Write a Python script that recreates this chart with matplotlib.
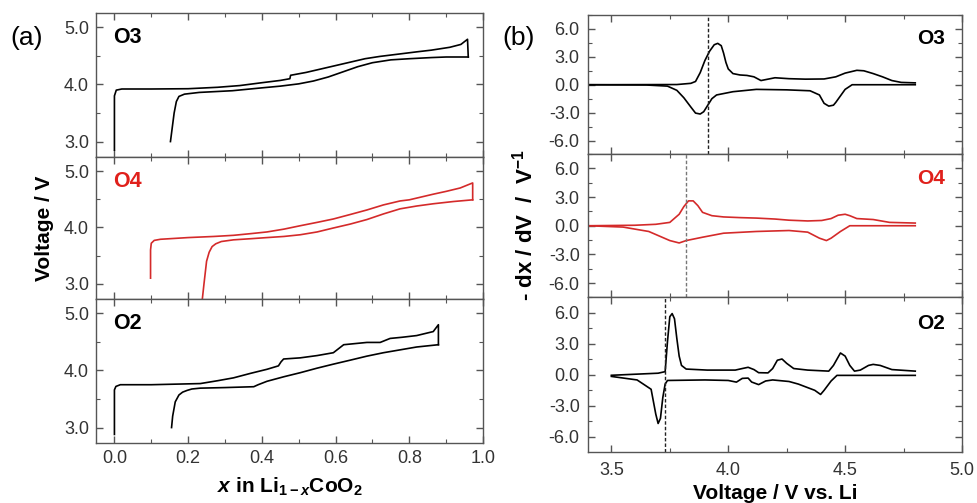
import matplotlib
matplotlib.use("Agg")
import matplotlib.pyplot as plt
from matplotlib.ticker import MultipleLocator, FormatStrFormatter

plt.rcParams['font.family'] = ['Liberation Sans', 'DejaVu Sans']
plt.rcParams['mathtext.fontset'] = 'custom'
plt.rcParams['mathtext.rm'] = 'Liberation Sans:bold'
plt.rcParams['mathtext.bf'] = 'Liberation Sans:bold'
plt.rcParams['mathtext.it'] = 'Liberation Sans:italic:bold'

# ---- (a) voltage profiles, x in Li(1-x)CoO2 ----
x_o3_ch = [0.0, 0.0, 0.005, 0.02, 0.10, 0.20, 0.28, 0.34, 0.40, 0.45, 0.476, 0.478, 0.52, 0.56, 0.60, 0.64, 0.68, 0.72, 0.77, 0.82, 0.86, 0.91, 0.94, 0.958, 0.96]
v_o3_ch = [2.85, 3.80, 3.90, 3.92, 3.92, 3.925, 3.95, 3.98, 4.03, 4.07, 4.10, 4.16, 4.21, 4.27, 4.33, 4.39, 4.45, 4.49, 4.53, 4.57, 4.60, 4.65, 4.70, 4.79, 4.48]
x_o3_dis = [0.96, 0.90, 0.86, 0.80, 0.75, 0.70, 0.66, 0.62, 0.58, 0.54, 0.50, 0.45, 0.40, 0.32, 0.23, 0.19, 0.175, 0.168, 0.162, 0.157, 0.152]
v_o3_dis = [4.48, 4.48, 4.47, 4.45, 4.43, 4.38, 4.31, 4.22, 4.13, 4.06, 4.01, 3.97, 3.94, 3.89, 3.86, 3.83, 3.79, 3.70, 3.50, 3.25, 3.00]

x_o4_ch = [0.098, 0.098, 0.100, 0.108, 0.125, 0.20, 0.27, 0.323, 0.37, 0.414, 0.46, 0.504, 0.55, 0.594, 0.64, 0.685, 0.73, 0.775, 0.80, 0.865, 0.90, 0.938, 0.972, 0.972]
v_o4_ch = [3.10, 3.60, 3.72, 3.77, 3.79, 3.82, 3.84, 3.86, 3.89, 3.92, 3.97, 4.03, 4.09, 4.15, 4.23, 4.31, 4.40, 4.47, 4.49, 4.59, 4.64, 4.70, 4.79, 4.49]
x_o4_dis = [0.972, 0.92, 0.865, 0.82, 0.775, 0.73, 0.685, 0.64, 0.594, 0.55, 0.504, 0.46, 0.414, 0.37, 0.323, 0.29, 0.275, 0.265, 0.257, 0.25, 0.243, 0.238]
v_o4_dis = [4.49, 4.46, 4.42, 4.38, 4.33, 4.24, 4.14, 4.06, 3.99, 3.92, 3.87, 3.84, 3.82, 3.80, 3.78, 3.75, 3.71, 3.66, 3.56, 3.40, 3.00, 2.70]

x_o2_ch = [0.0, 0.0, 0.004, 0.016, 0.10, 0.233, 0.28, 0.323, 0.37, 0.414, 0.445, 0.452, 0.459, 0.504, 0.55, 0.594, 0.622, 0.685, 0.721, 0.748, 0.78, 0.820, 0.865, 0.879, 0.879]
v_o2_ch = [2.88, 3.66, 3.72, 3.75, 3.75, 3.77, 3.82, 3.87, 3.95, 4.02, 4.08, 4.15, 4.20, 4.22, 4.26, 4.31, 4.45, 4.49, 4.49, 4.56, 4.58, 4.61, 4.68, 4.80, 4.45]
x_o2_dis = [0.879, 0.82, 0.775, 0.73, 0.685, 0.64, 0.594, 0.55, 0.504, 0.46, 0.414, 0.39, 0.378, 0.30, 0.233, 0.21, 0.197, 0.185, 0.175, 0.165, 0.158, 0.155]
v_o2_dis = [4.45, 4.41, 4.36, 4.31, 4.25, 4.18, 4.11, 4.04, 3.96, 3.89, 3.81, 3.75, 3.715, 3.70, 3.69, 3.675, 3.65, 3.62, 3.57, 3.45, 3.20, 3.00]

# ---- (b) differential capacity, -dx/dV vs voltage ----
V_o3c = [3.40, 3.78, 3.84, 3.86, 3.88, 3.90, 3.92, 3.94, 3.955, 3.97, 3.98, 3.99, 4.00, 4.02, 4.05, 4.08, 4.11, 4.14, 4.17, 4.20, 4.26, 4.33, 4.41, 4.46, 4.50, 4.55, 4.58, 4.62, 4.66, 4.70, 4.74, 4.80]
dq_o3c = [0.0, 0.02, 0.15, 0.35, 1.3, 2.6, 3.6, 4.3, 4.45, 4.2, 3.4, 2.4, 1.7, 1.2, 1.05, 1.0, 0.85, 0.45, 0.6, 0.75, 0.65, 0.6, 0.62, 0.85, 1.25, 1.55, 1.5, 1.2, 0.85, 0.45, 0.25, 0.2]
V_o3d = [4.80, 4.53, 4.50, 4.48, 4.46, 4.45, 4.43, 4.41, 4.39, 4.35, 4.25, 4.12, 4.02, 3.98, 3.95, 3.93, 3.91, 3.895, 3.88, 3.86, 3.84, 3.81, 3.78, 3.74, 3.65, 3.40]
dq_o3d = [0.0, 0.0, -0.5, -1.2, -1.9, -2.2, -2.3, -2.0, -1.1, -0.65, -0.55, -0.5, -0.75, -0.95, -1.1, -1.5, -2.3, -2.9, -3.15, -3.05, -2.4, -1.4, -0.6, -0.15, -0.03, 0.0]

V_o4c = [3.40, 3.60, 3.69, 3.75, 3.79, 3.81, 3.83, 3.85, 3.87, 3.89, 3.93, 3.98, 4.05, 4.12, 4.20, 4.26, 4.34, 4.40, 4.44, 4.47, 4.50, 4.52, 4.55, 4.62, 4.69, 4.80]
dq_o4c = [0.0, 0.05, 0.15, 0.35, 1.2, 2.0, 2.6, 2.6, 2.1, 1.4, 1.05, 0.92, 0.85, 0.8, 0.7, 0.58, 0.5, 0.55, 0.75, 1.1, 1.2, 1.05, 0.75, 0.65, 0.35, 0.28]
V_o4d = [4.80, 4.52, 4.48, 4.44, 4.42, 4.39, 4.34, 4.26, 4.12, 3.98, 3.89, 3.82, 3.79, 3.75, 3.66, 3.55, 3.40]
dq_o4d = [0.0, 0.0, -0.6, -1.3, -1.55, -1.3, -0.67, -0.5, -0.6, -0.78, -1.2, -1.55, -1.8, -1.55, -0.6, -0.14, 0.0]

V_o2c = [3.50, 3.60, 3.70, 3.73, 3.74, 3.75, 3.76, 3.77, 3.78, 3.79, 3.80, 3.82, 3.91, 4.03, 4.06, 4.085, 4.11, 4.13, 4.17, 4.19, 4.21, 4.23, 4.25, 4.28, 4.34, 4.43, 4.45, 4.47, 4.48, 4.50, 4.52, 4.54, 4.565, 4.60, 4.62, 4.65, 4.70, 4.80]
dq_o2c = [-0.05, 0.05, 0.15, 0.30, 3.2, 5.6, 5.9, 5.4, 3.5, 1.8, 0.9, 0.55, 0.45, 0.45, 0.6, 0.72, 0.5, 0.2, 0.18, 0.6, 1.4, 1.52, 1.1, 0.6, 0.45, 0.35, 0.9, 1.7, 2.1, 1.8, 0.9, 0.35, 0.45, 0.9, 1.0, 0.9, 0.5, 0.35]
V_o2d = [4.80, 4.465, 4.44, 4.41, 4.395, 4.37, 4.30, 4.26, 4.19, 4.16, 4.13, 4.10, 4.085, 4.06, 4.035, 4.00, 3.90, 3.74, 3.73, 3.72, 3.71, 3.70, 3.69, 3.67, 3.61, 3.50]
dq_o2d = [-0.06, -0.06, -0.6, -1.5, -1.9, -1.5, -0.9, -0.65, -0.5, -0.6, -0.95, -0.7, -0.32, -0.35, -0.71, -0.55, -0.5, -0.55, -0.9, -2.2, -4.2, -4.7, -3.8, -1.4, -0.5, -0.16]

phase_names = ['O3', 'O4', 'O2']
phase_colors = ['black', '#d42a2a', 'black']
label_colors = ['black', '#e0201b', 'black']
dash_v = [3.914, 3.82, 3.73]
dash_colors = ['#222222', '#777777', '#222222']

left_curves = [(x_o3_ch, v_o3_ch, x_o3_dis, v_o3_dis),
               (x_o4_ch, v_o4_ch, x_o4_dis, v_o4_dis),
               (x_o2_ch, v_o2_ch, x_o2_dis, v_o2_dis)]
right_curves = [(V_o3c, dq_o3c, V_o3d, dq_o3d),
                (V_o4c, dq_o4c, V_o4d, dq_o4d),
                (V_o2c, dq_o2c, V_o2d, dq_o2d)]

fig = plt.figure(figsize=(9.77, 5.03), dpi=100)

spine_col = '#555555'
tick_col = '#333333'


def style_axis(ax):
    for s in ax.spines.values():
        s.set_color(spine_col)
        s.set_linewidth(1.0)
    ax.tick_params(which='both', direction='in', top=True, right=True,
                   colors=spine_col, labelcolor=tick_col, labelsize=13)
    ax.tick_params(which='major', length=5, width=1.0)
    ax.tick_params(which='minor', length=3, width=0.8)


# left column
left_x0, left_w = 96 / 977, 387 / 977
left_edges = [13, 157, 299, 443]
for i in range(3):
    top, bot = left_edges[i], left_edges[i + 1]
    ax = fig.add_axes([left_x0, 1 - bot / 503, left_w, (bot - top) / 503])
    xc, vc, xd, vd = left_curves[i]
    ax.plot(xc, vc, color=phase_colors[i], lw=1.2)
    ax.plot(xd, vd, color=phase_colors[i], lw=1.2)
    ax.set_xlim(-0.05, 1.0)
    ax.set_ylim(2.73, 5.25)
    ax.xaxis.set_major_locator(MultipleLocator(0.2))
    ax.xaxis.set_minor_locator(MultipleLocator(0.1))
    ax.yaxis.set_major_locator(MultipleLocator(1.0))
    ax.yaxis.set_minor_locator(MultipleLocator(0.5))
    ax.xaxis.set_major_formatter(FormatStrFormatter('%.1f'))
    ax.yaxis.set_major_formatter(FormatStrFormatter('%.1f'))
    style_axis(ax)
    ax.tick_params(axis='y', pad=5)
    ax.tick_params(axis='x', pad=5)
    if i < 2:
        ax.tick_params(labelbottom=False)
    ax.text(0.045, 0.83, phase_names[i], transform=ax.transAxes, fontsize=15.5,
            fontweight='bold', color=label_colors[i], va='center', ha='left')
    if i == 1:
        ax.set_ylabel('Voltage / V', fontsize=15, fontweight='bold', labelpad=7)
    if i == 2:
        ax.set_xlabel(r'$x$ in Li$_{1-x}$CoO$_2$', fontsize=15, fontweight='bold', labelpad=6)

# right column
right_x0, right_w = 588 / 977, 374 / 977
right_edges = [15, 154, 297, 452]
for i in range(3):
    top, bot = right_edges[i], right_edges[i + 1]
    ax = fig.add_axes([right_x0, 1 - bot / 503, right_w, (bot - top) / 503])
    vc, qc, vd, qd = right_curves[i]
    ax.plot(vc, qc, color=phase_colors[i], lw=1.2)
    ax.plot(vd, qd, color=phase_colors[i], lw=1.2)
    ax.axvline(dash_v[i], color=dash_colors[i], lw=1.0, ls=(0, (2.5, 1.5)))
    ax.set_xlim(3.4, 5.0)
    ax.set_ylim(-7.45, 7.5)
    ax.xaxis.set_major_locator(MultipleLocator(0.5))
    ax.xaxis.set_minor_locator(MultipleLocator(0.25))
    ax.yaxis.set_major_locator(MultipleLocator(3.0))
    ax.yaxis.set_minor_locator(MultipleLocator(1.5))
    ax.xaxis.set_major_formatter(FormatStrFormatter('%.1f'))
    ax.yaxis.set_major_formatter(FormatStrFormatter('%.1f'))
    style_axis(ax)
    ax.tick_params(axis='y', pad=6)
    ax.tick_params(axis='x', pad=7)
    if i < 2:
        ax.tick_params(labelbottom=False)
    ax.text(0.955, 0.83, phase_names[i], transform=ax.transAxes, fontsize=15,
            fontweight='bold', color=label_colors[i], va='center', ha='right')
    if i == 1:
        ax.set_ylabel(r'- dx / dV  /  V$^{-1}$', fontsize=16, fontweight='bold', labelpad=8)
    if i == 2:
        ax.set_xlabel('Voltage / V vs. Li', fontsize=15, fontweight='bold', labelpad=4)

fig.text(10 / 977, 1 - 38 / 503, '(a)', fontsize=19, va='center', ha='left')
fig.text(502 / 977, 1 - 38 / 503, '(b)', fontsize=19, va='center', ha='left')

fig.savefig('out.png', dpi=100)
